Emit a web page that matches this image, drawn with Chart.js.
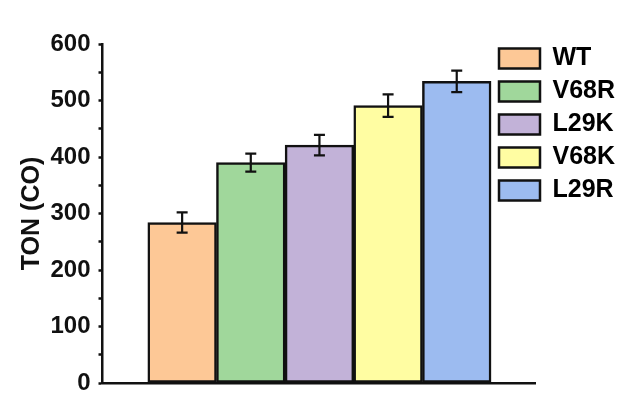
<!DOCTYPE html>
<html>
<head>
<meta charset="utf-8">
<script src="https://cdn.jsdelivr.net/npm/chart.js@4.4.1/dist/chart.umd.min.js"></script>
<style>
  html, body { margin: 0; padding: 0; background: #fff; }
  #wrap { width: 619px; height: 414px; }
</style>
</head>
<body>
<div id="wrap"><canvas id="ton" width="619" height="414"></canvas></div>
<script>
// TON (CO) per variant, bars touch each other
const categories = ['WT', 'V68R', 'L29K', 'V68K', 'L29R'];
const positions = [1, 2, 3, 4, 5];
const tonValues = [284, 390, 421, 491, 534];
const tonErrors = [18, 16, 18, 20, 19];
const barColors = ['#FDC896', '#A0D79B', '#C2B2D8', '#FFFDA2', '#9CBBF0'];
const yTicks = [0, 100, 200, 300, 400, 500, 600];

const FONT = 'Arial, "Liberation Sans", Helvetica, sans-serif';
const INK = '#111';

// error bars drawn on top of the bars
const errorBars = {
  id: 'errorBars',
  afterDatasetsDraw(chart){
    const {ctx, scales: {y}} = chart;
    const bars = chart.getDatasetMeta(0).data;
    ctx.save();
    ctx.strokeStyle = INK;
    ctx.lineWidth = 2.2;
    bars.forEach((bar, i) => {
      const top = y.getPixelForValue(tonValues[i] + tonErrors[i]);
      const bot = y.getPixelForValue(tonValues[i] - tonErrors[i]);
      const cap = 5.5;
      ctx.beginPath();
      ctx.moveTo(bar.x, top); ctx.lineTo(bar.x, bot);
      ctx.moveTo(bar.x - cap, top); ctx.lineTo(bar.x + cap, top);
      ctx.moveTo(bar.x - cap, bot); ctx.lineTo(bar.x + cap, bot);
      ctx.stroke();
    });
    ctx.restore();
  }
};

// legend sits next to the top of the plot, partly over the x range
const legendNudge = {
  id: 'legendNudge',
  afterLayout(chart){
    const lg = chart.legend;
    const dy = chart.chartArea.top - 6 - lg.top;
    lg.left = chart.chartArea.right - 44;
    lg.right = chart.width;
    lg.top += dy; lg.bottom += dy;
  }
};

new Chart(document.getElementById('ton').getContext('2d'), {
  type: 'bar',
  data: {
    datasets: [{
      label: 'TON (CO)',
      data: positions.map((p, i) => ({x: p, y: tonValues[i]})),
      backgroundColor: barColors,
      borderColor: INK,
      borderWidth: 2.5,
      borderSkipped: false,
      barPercentage: 1,
      categoryPercentage: 1,
    }]
  },
  options: {
    responsive: false,
    animation: false,
    layout: { padding: { left: 0, top: 44, right: 0, bottom: 23 } },
    plugins: {
      tooltip: { enabled: false },
      legend: {
        position: 'right',
        align: 'start',
        maxWidth: 84,
        labels: {
          boxWidth: 41,
          boxHeight: 20,
          padding: 8,
          color: INK,
          font: { family: FONT, size: 25, weight: 'bold' },
          generateLabels: () => categories.map((c, i) => ({
            text: c, fillStyle: barColors[i], strokeStyle: INK,
            lineWidth: 2.5, hidden: false, index: i, datasetIndex: 0
          }))
        }
      }
    },
    scales: {
      x: {
        type: 'linear',
        offset: false,
        min: -0.16,
        max: 6.14,
        ticks: { display: false, stepSize: 1, includeBounds: false },
        grid: { display: false, offset: false },
        border: { color: INK, width: 2.5 }
      },
      y: {
        min: 0,
        max: 600,
        afterFit: s => { s.width = 102.5; },
        ticks: {
          stepSize: 50,
          autoSkip: false,
          padding: 8,
          color: INK,
          font: { family: FONT, size: 24, weight: 'bold' },
          callback: v => yTicks.includes(v) ? v : ''
        },
        grid: {
          display: true,
          drawOnChartArea: false,
          drawTicks: true,
          tickLength: 4,
          tickWidth: 2.5,
          tickColor: INK
        },
        border: { color: INK, width: 2.5 },
        title: {
          display: true,
          text: 'TON (CO)',
          color: INK,
          padding: { top: 17, bottom: 0 },
          font: { family: FONT, size: 25, weight: 'bold' }
        }
      }
    }
  },
  plugins: [errorBars, legendNudge]
});
</script>
</body>
</html>
